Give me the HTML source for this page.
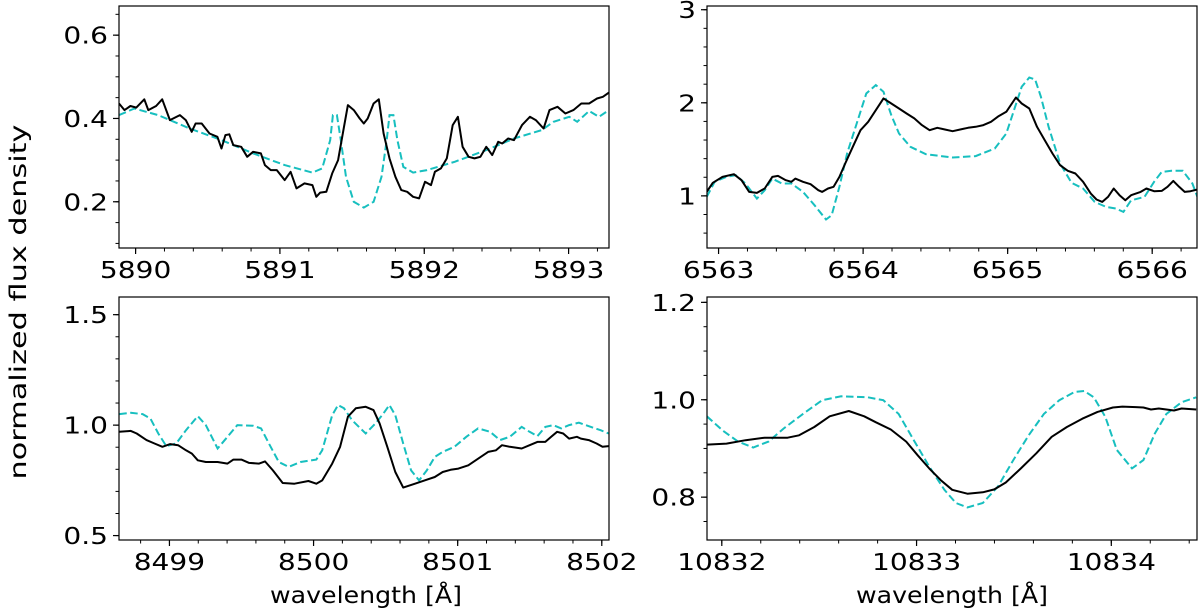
<!DOCTYPE html>
<html><head><meta charset="utf-8"><style>
html,body{margin:0;padding:0;background:#fff;}
svg{display:block;font-family:"DejaVu Sans","Liberation Sans",sans-serif;}
</style></head><body>
<svg id="fig" width="1200" height="612" viewBox="0 0 1200 612" xmlns="http://www.w3.org/2000/svg">
<text x="0" y="0" transform="translate(26,302) rotate(-90)" text-anchor="middle" font-size="23" textLength="355" lengthAdjust="spacingAndGlyphs" fill="#000">normalized flux density</text>
<text x="270" y="603" font-size="23" textLength="192" lengthAdjust="spacingAndGlyphs" fill="#000">wavelength [Å]</text>
<text x="856" y="603" font-size="23" textLength="192" lengthAdjust="spacingAndGlyphs" fill="#000">wavelength [Å]</text>
</svg>
<script>
// Panel A: Na D region (offsets from 5890)
const naBase = 5890;
const naObsX = [-0.115,-0.077,-0.036,0.005,0.06,0.088,0.142,0.184,0.238,0.307,0.348,0.389,0.416,0.458,0.512,0.567,0.595,0.622,0.649,0.677,0.732,0.773,0.814,0.868,0.896,0.937,0.978,1.033,1.074,1.115,1.17,1.225,1.252,1.279,1.321,1.362,1.403,1.444,1.471,1.512,1.553,1.581,1.608,1.649,1.685,1.718,1.759,1.8,1.841,1.882,1.923,1.964,2.005,2.047,2.074,2.115,2.156,2.197,2.233,2.266,2.307,2.348,2.389,2.43,2.471,2.512,2.54,2.581,2.622,2.677,2.732,2.773,2.827,2.868,2.923,2.978,3.033,3.088,3.142,3.197,3.238,3.279];
const naObsY = [0.436,0.42,0.43,0.426,0.446,0.42,0.43,0.446,0.396,0.408,0.396,0.368,0.388,0.388,0.364,0.356,0.328,0.36,0.362,0.336,0.332,0.308,0.32,0.316,0.288,0.276,0.276,0.252,0.272,0.232,0.244,0.24,0.212,0.222,0.224,0.268,0.3,0.38,0.432,0.42,0.4,0.388,0.4,0.436,0.446,0.364,0.304,0.26,0.228,0.224,0.212,0.208,0.248,0.24,0.272,0.28,0.304,0.384,0.404,0.332,0.308,0.304,0.308,0.332,0.312,0.344,0.34,0.352,0.348,0.384,0.404,0.396,0.376,0.42,0.428,0.412,0.42,0.436,0.436,0.448,0.452,0.462];
const naModX = [-0.115,-0.008,0.156,0.375,0.595,0.814,1.033,1.225,1.293,1.348,1.367,1.395,1.422,1.458,1.512,1.581,1.649,1.704,1.74,1.759,1.786,1.814,1.855,1.923,2.019,2.211,2.43,2.622,2.814,2.896,3.005,3.06,3.142,3.211,3.279];
const naModY = [0.408,0.424,0.408,0.376,0.348,0.316,0.288,0.27,0.28,0.348,0.408,0.408,0.348,0.26,0.2,0.186,0.2,0.26,0.348,0.408,0.408,0.348,0.284,0.27,0.276,0.296,0.324,0.352,0.372,0.392,0.404,0.392,0.418,0.404,0.42];
const naXTicks = [5890,5891,5892,5893];
const naYTicks = [0.2,0.4,0.6];

// Panel B: H-alpha (offsets from 6563)
const haBase = 6563;
const haObsX = [-0.082,-0.04,0.027,0.106,0.159,0.212,0.265,0.319,0.372,0.411,0.465,0.504,0.531,0.584,0.637,0.69,0.717,0.757,0.796,0.836,0.876,0.929,0.982,1.035,1.088,1.141,1.195,1.248,1.301,1.354,1.407,1.46,1.513,1.566,1.619,1.672,1.726,1.779,1.832,1.885,1.938,1.991,2.057,2.097,2.15,2.203,2.256,2.31,2.363,2.416,2.469,2.522,2.575,2.615,2.655,2.694,2.734,2.774,2.814,2.854,2.92,2.96,3.013,3.066,3.106,3.146,3.186,3.225,3.265,3.313];
const haObsY = [1.043,1.14,1.204,1.233,1.168,1.043,1.032,1.079,1.204,1.215,1.168,1.151,1.186,1.151,1.125,1.061,1.043,1.079,1.097,1.204,1.348,1.527,1.706,1.796,1.921,2.047,1.993,1.939,1.885,1.832,1.76,1.706,1.731,1.713,1.695,1.713,1.731,1.742,1.76,1.796,1.857,1.903,2.057,1.993,1.939,1.742,1.599,1.455,1.33,1.269,1.24,1.151,1.025,0.961,0.935,0.989,1.079,1.007,0.953,1.007,1.043,1.079,1.05,1.054,1.097,1.161,1.097,1.043,1.05,1.068];
const haModX = [-0.082,-0.027,0.053,0.119,0.186,0.265,0.319,0.372,0.438,0.504,0.584,0.664,0.743,0.783,0.836,0.889,0.956,1.022,1.088,1.141,1.195,1.248,1.327,1.434,1.619,1.779,1.911,1.991,2.044,2.097,2.15,2.19,2.23,2.283,2.363,2.442,2.522,2.602,2.681,2.748,2.801,2.854,2.947,3.013,3.066,3.133,3.212,3.278,3.313];
const haModY = [0.989,1.151,1.204,1.222,1.133,0.971,1.061,1.186,1.133,1.133,1.043,0.9,0.746,0.792,1.097,1.455,1.778,2.1,2.19,2.118,1.867,1.67,1.527,1.448,1.412,1.427,1.509,1.67,1.921,2.172,2.272,2.251,2.065,1.742,1.348,1.14,1.079,0.935,0.882,0.864,0.828,0.953,0.989,1.151,1.258,1.269,1.269,1.133,0.989];
const haXTicks = [6563,6564,6565,6566];
const haYTicks = [1,2,3];

// Panel C: Ca triplet (offsets from 8499)
const caBase = 8499;
const caObsX = [-0.348,-0.268,-0.227,-0.159,-0.104,-0.049,0.005,0.06,0.115,0.156,0.197,0.252,0.334,0.403,0.444,0.499,0.553,0.622,0.663,0.718,0.786,0.868,0.964,1.019,1.06,1.129,1.184,1.238,1.293,1.362,1.416,1.458,1.512,1.567,1.622,1.704,1.786,1.841,1.896,1.951,2.005,2.074,2.142,2.211,2.266,2.307,2.362,2.444,2.499,2.553,2.608,2.649,2.69,2.732,2.773,2.827,2.855,2.91,2.964,3.005,3.047];
const caObsY = [0.97,0.974,0.962,0.932,0.917,0.902,0.914,0.909,0.886,0.871,0.841,0.833,0.833,0.826,0.844,0.844,0.829,0.826,0.836,0.795,0.738,0.735,0.747,0.735,0.75,0.826,0.902,1.038,1.076,1.083,1.068,1.008,0.902,0.788,0.717,0.735,0.753,0.765,0.788,0.798,0.803,0.818,0.848,0.879,0.886,0.909,0.902,0.894,0.909,0.924,0.924,0.947,0.97,0.962,0.939,0.947,0.939,0.932,0.917,0.902,0.905];
const caModX = [-0.348,-0.268,-0.186,-0.132,-0.077,-0.022,0.047,0.115,0.197,0.252,0.334,0.403,0.471,0.581,0.636,0.69,0.759,0.827,0.91,1.019,1.06,1.129,1.17,1.211,1.266,1.362,1.43,1.485,1.526,1.567,1.622,1.677,1.732,1.786,1.841,1.896,1.978,2.06,2.142,2.225,2.293,2.362,2.444,2.499,2.553,2.608,2.663,2.718,2.773,2.841,2.91,2.992,3.047];
const caModY = [1.05,1.056,1.05,1.03,0.962,0.905,0.917,0.977,1.041,1.0,0.894,0.947,1.0,0.997,0.985,0.917,0.833,0.811,0.833,0.844,0.886,1.045,1.091,1.076,1.023,0.962,1.008,1.053,1.091,1.045,0.917,0.795,0.75,0.795,0.856,0.879,0.902,0.947,0.985,0.97,0.932,0.947,0.992,0.97,0.95,0.992,1.0,0.985,1.0,1.011,0.995,0.977,0.962];
const caXTicks = [8499,8500,8501,8502];
const caYTicks = [0.5,1.0,1.5];

// Panel D: He I 10833 (offsets from 10832)
const heBase = 10832;
const heObsX = [-0.077,0.024,0.122,0.22,0.338,0.397,0.475,0.554,0.652,0.731,0.79,0.868,0.947,1.006,1.065,1.124,1.183,1.261,1.34,1.399,1.458,1.536,1.615,1.694,1.772,1.851,1.929,2.008,2.057,2.126,2.165,2.204,2.244,2.283,2.322,2.361,2.436];
const heObsY = [0.908,0.91,0.917,0.922,0.922,0.927,0.944,0.966,0.977,0.966,0.954,0.939,0.914,0.886,0.859,0.835,0.815,0.807,0.81,0.816,0.83,0.859,0.89,0.924,0.944,0.961,0.975,0.984,0.986,0.985,0.984,0.98,0.982,0.98,0.978,0.982,0.98];
const heModX = [-0.077,0.004,0.083,0.161,0.24,0.318,0.417,0.515,0.613,0.75,0.829,0.908,0.986,1.065,1.143,1.202,1.261,1.34,1.418,1.497,1.576,1.654,1.733,1.811,1.861,1.91,1.969,2.028,2.106,2.165,2.224,2.283,2.361,2.436];
const heModY = [0.966,0.937,0.914,0.902,0.914,0.941,0.971,0.999,1.007,1.005,0.999,0.971,0.917,0.863,0.815,0.788,0.779,0.788,0.822,0.876,0.927,0.971,0.999,1.016,1.018,1.005,0.965,0.897,0.859,0.876,0.931,0.971,0.995,1.005];
const heXTicks = [10832,10833,10834];
const heYTicks = ['0.8','1.0','1.2'];

const NS = 'http://www.w3.org/2000/svg';
const fig = document.getElementById('fig');
function mk(tag, attrs, parent){ const e=document.createElementNS(NS,tag); for(const k in attrs) e.setAttribute(k,attrs[k]); (parent||fig).appendChild(e); return e; }

const panels = [
 {name:'na-d', box:[119,6,609,248], xr:[5889.885,5893.28], yr:[0.089,0.67], base:naBase, ox:naObsX, oy:naObsY, mx:naModX, my:naModY, xt:naXTicks, yt:naYTicks, xm:0.2, ym:0.05, fmtY:v=>v.toFixed(1)},
 {name:'h-alpha', box:[707,6,1197,248], xr:[6562.92,6566.31], yr:[0.44,3.04], base:haBase, ox:haObsX, oy:haObsY, mx:haModX, my:haModY, xt:haXTicks, yt:haYTicks, xm:0.2, ym:0.2, fmtY:v=>String(v)},
 {name:'ca-triplet', box:[119,297,609,540], xr:[8498.65,8502.05], yr:[0.48,1.58], base:caBase, ox:caObsX, oy:caObsY, mx:caModX, my:caModY, xt:caXTicks, yt:caYTicks, xm:0.2, ym:0.1, fmtY:v=>v.toFixed(1)},
 {name:'he-10833', box:[707,297,1197,540], xr:[10831.924,10834.44], yr:[0.712,1.211], base:heBase, ox:heObsX, oy:heObsY, mx:heModX, my:heModY, xt:heXTicks, yt:heYTicks.map(Number), xm:0.2, ym:0.05, fmtY:v=>v.toFixed(1)}
];

panels.forEach((p,i)=>{
  const [L,T,R,B]=p.box;
  const sx=v=>L+(v-p.xr[0])/(p.xr[1]-p.xr[0])*(R-L);
  const sy=v=>B-(v-p.yr[0])/(p.yr[1]-p.yr[0])*(B-T);
  const g=mk('g',{});
  
  
  const cp=mk('clipPath',{id:'clip'+i},g);
  mk('rect',{x:L,y:T,width:R-L,height:B-T},cp);
  const x0=Math.ceil(p.xr[0]/p.xm)*p.xm;
  for(let v=x0; v<=p.xr[1]+1e-9; v+=p.xm){ const x=sx(v); mk('line',{x1:x,x2:x,y1:B,y2:B+3.5,stroke:'#000','stroke-width':1},g); }
  const y0=Math.ceil(p.yr[0]/p.ym)*p.ym;
  for(let v=y0; v<=p.yr[1]+1e-9; v+=p.ym){ const y=sy(v); mk('line',{x1:L,x2:L-3.5,y1:y,y2:y,stroke:'#000','stroke-width':1},g); }
  p.xt.forEach(v=>{ const x=sx(v);
    mk('line',{x1:x,x2:x,y1:B,y2:B+6,stroke:'#000','stroke-width':1.2},g);
    const t=mk('text',{x:0,y:0,transform:'translate('+x.toFixed(1)+','+(B+30)+') scale(1.22,1)','text-anchor':'middle','font-size':23,fill:'#000'},g); t.textContent=String(v);
    
    
  });
  p.yt.forEach(v=>{ const y=sy(v);
    mk('line',{x1:L,x2:L-6,y1:y,y2:y,stroke:'#000','stroke-width':1.2},g);
    const t=mk('text',{x:0,y:0,transform:'translate('+(L-11)+','+(y+8.5).toFixed(1)+') scale(1.22,1)','text-anchor':'end','font-size':23,fill:'#000'},g); t.textContent=p.fmtY(v);
    
    
  });
  const pts=(xs,ys)=>xs.map((x,k)=>sx(p.base+x).toFixed(1)+','+sy(ys[k]).toFixed(1)).join(' ');
  const mod=mk('polyline',{points:pts(p.mx,p.my),fill:'none',stroke:'#17bfbf','stroke-width':2,'stroke-dasharray':'7.5,3.5','clip-path':'url(#clip'+i+')'},g);
  
  
  const obs=mk('polyline',{points:pts(p.ox,p.oy),fill:'none',stroke:'#000','stroke-width':2,'stroke-linejoin':'round','clip-path':'url(#clip'+i+')'},g);
  
  
  const fr=mk('rect',{x:L,y:T,width:R-L,height:B-T,fill:'none',stroke:'#000','stroke-width':1.2},g);
  
  
});
</script>
</body></html>
